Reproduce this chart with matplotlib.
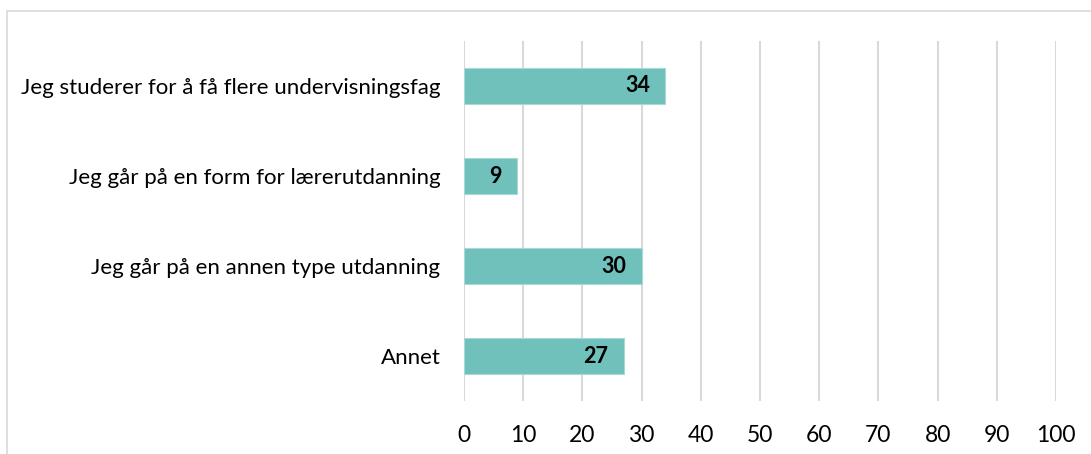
import matplotlib.pyplot as plt
from matplotlib.patches import Rectangle

plt.rcParams['font.family'] = ['Lato', 'DejaVu Sans']

categories = [
    "Jeg studerer for å få flere undervisningsfag",
    "Jeg går på en form for lærerutdanning",
    "Jeg går på en annen type utdanning",
    "Annet",
]
values = [34, 9, 30, 27]
xticks = list(range(0, 101, 10))

bar_color = "#70C0BB"
grid_color = "#D9D9D9"

fig = plt.figure(figsize=(10.91, 4.54), dpi=100)
ax = fig.add_axes([0.4253, 0.1167, 0.9679 - 0.4253, 0.9097 - 0.1167])

ypos = list(range(len(categories)))
ax.barh(ypos, values, height=0.4, color=bar_color, edgecolor="#A8D9D6",
        linewidth=0.8, zorder=3)

for y, v in zip(ypos, values):
    ax.text(v - 2.6, y, str(v), ha="right", va="center", fontsize=15.5,
            fontweight="bold", color="black", zorder=4)

ax.set_xlim(0, 100)
ax.set_ylim(len(categories) - 0.5, -0.5)
ax.set_yticks(ypos)
ax.set_yticklabels(categories, fontsize=16)
ax.set_xticks(xticks)
ax.set_xticklabels([str(t) for t in xticks], fontsize=16.5)

ax.tick_params(axis="both", length=0)
ax.tick_params(axis="y", pad=17)
ax.tick_params(axis="x", pad=17)
ax.xaxis.grid(True, color=grid_color, linewidth=1.5, zorder=0)
for s in ax.spines.values():
    s.set_visible(False)

# chart frame, cut at right and bottom
fig.patches.append(Rectangle((7 / 1091, -0.05), 1.05, 1 - 11 / 454 + 0.05,
                             transform=fig.transFigure, fill=False,
                             edgecolor="#D9D9D9", linewidth=1.2))

fig.savefig("out.png", dpi=100)
